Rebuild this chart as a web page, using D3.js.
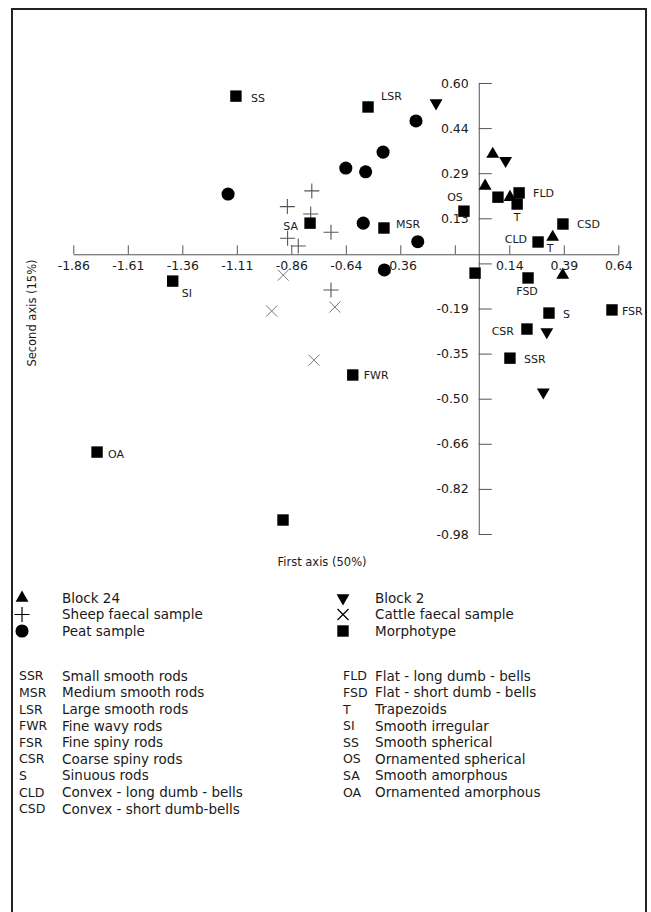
<!DOCTYPE html>
<html>
<head>
<meta charset="utf-8">
<script src="https://cdn.jsdelivr.net/npm/d3@7"></script>
<style>
  body { margin: 0; background: #fff; }
  svg text { font-family: "DejaVu Sans", sans-serif; fill: #1a1a1a; }
</style>
</head>
<body>
<div id="container"></div>
<script>
// axis ticks (the printed labels are rounded, the ticks are evenly spaced)
const xTicks = [-1.86, -1.61, -1.36, -1.11, -0.86, -0.61, -0.36, -0.11, 0.14, 0.39, 0.64];
const xTickLabels = ["-1.86", "-1.61", "-1.36", "-1.11", "-0.86", "-0.64", "-0.36", "", "0.14", "0.39", "0.64"];
const yTicks = [0.600, 0.442, 0.284, 0.126, -0.032, -0.190, -0.348, -0.506, -0.664, -0.822, -0.980];
const yTickLabels = ["0.60", "0.44", "0.29", "0.13", "", "-0.19", "-0.35", "-0.50", "-0.66", "-0.82", "-0.98"];

// sample scores [first axis, second axis]
const block24 = [[0.064, 0.351], [0.029, 0.239], [0.143, 0.200], [0.339, 0.060], [0.385, -0.073]];
const block2 = [[-0.196, 0.530], [0.123, 0.328], [0.312, -0.272], [0.296, -0.483]];
const sheep = [[-0.766, 0.222], [-0.878, 0.167], [-0.771, 0.141], [-0.678, 0.077], [-0.877, 0.056], [-0.828, 0.029], [-0.678, -0.125]];
const cattle = [[-0.897, -0.073], [-0.950, -0.199], [-0.660, -0.185], [-0.756, -0.371]];
const peat = [[-1.150, 0.211], [-0.288, 0.467], [-0.439, 0.358], [-0.610, 0.302], [-0.519, 0.289], [-0.530, 0.109], [-0.280, 0.044], [-0.433, -0.055]];

// morphotype scores
const morphoNames = ["SS", "LSR", "OS", "", "FLD", "T", "CSD", "CLD", "MSR", "SA", "SI", "", "FSD", "S", "FSR", "CSR", "SSR", "FWR", "OA", ""];
const morphoX = [-1.114, -0.508, -0.068, 0.088, 0.185, 0.176, 0.386, 0.272, -0.435, -0.774, -1.404, -0.017, 0.226, 0.322, 0.611, 0.221, 0.143, -0.578, -1.751, -0.898];
const morphoY = [0.554, 0.516, 0.151, 0.200, 0.215, 0.176, 0.106, 0.043, 0.092, 0.109, -0.094, -0.066, -0.083, -0.206, -0.195, -0.262, -0.364, -0.423, -0.693, -0.931];

// a label printed without its own marker
const extraLabels = [{ name: "T", x: 0.327, y: 0.021 }];

const groupNames = ["Block 24", "Block 2", "Sheep faecal sample", "Cattle faecal sample", "Peat sample", "Morphotype"];
const abbrLeft = ["SSR", "MSR", "LSR", "FWR", "FSR", "CSR", "S", "CLD", "CSD"];
const descLeft = ["Small smooth rods", "Medium smooth rods", "Large smooth rods", "Fine wavy rods", "Fine spiny rods", "Coarse spiny rods", "Sinuous rods", "Convex - long dumb - bells", "Convex - short dumb-bells"];
const abbrRight = ["FLD", "FSD", "T", "SI", "SS", "OS", "SA", "OA"];
const descRight = ["Flat - long dumb - bells", "Flat - short dumb - bells", "Trapezoids", "Smooth irregular", "Smooth spherical", "Ornamented spherical", "Smooth amorphous", "Ornamented  amorphous"];

// where each morphotype label sits relative to its square
const labelPos = {
  SS: [15, 2, "start"], LSR: [13, -11, "start"], OS: [-9, -14, "middle"], FLD: [14, 0, "start"],
  T: [0, 13, "middle"], CSD: [14, 0, "start"], CLD: [-11, -3, "end"], MSR: [12, -4, "start"],
  SA: [-12, 3, "end"], SI: [9, 12, "start"], FSD: [-1, 13, "middle"], S: [14, 1, "start"],
  FSR: [10, 1, "start"], CSR: [-13, 2, "end"], SSR: [14, 1, "start"], FWR: [11, 0, "start"],
  OA: [11, 2, "start"]
};

const width = 651, height = 912;

const svg = d3.select("#container")
  .append("svg")
  .attr("width", width)
  .attr("height", height);

svg.append("rect")
  .attr("x", 12)
  .attr("y", 9)
  .attr("width", 634)
  .attr("height", 920)
  .attr("fill", "none")
  .attr("stroke", "#222")
  .attr("stroke-width", 2);

const x = d3.scaleLinear()
  .domain([-1.86, 0.64])
  .range([73.3, 618.3]);

const y = d3.scaleLinear()
  .domain([-0.98, 0.60])
  .range([534, 83]);

const xAxis = svg.append("g")
  .attr("transform", `translate(0, ${y(0)})`)
  .call(d3.axisBottom(x)
    .tickValues(xTicks)
    .tickFormat((d, i) => xTickLabels[i])
    .tickSizeInner(-9)
    .tickSizeOuter(0)
    .tickPadding(7));

const yAxis = svg.append("g")
  .attr("transform", `translate(${x(0)}, 0)`)
  .call(d3.axisLeft(y)
    .tickValues(yTicks)
    .tickFormat((d, i) => yTickLabels[i])
    .tickSizeInner(-13)
    .tickSizeOuter(0)
    .tickPadding(10));

[xAxis, yAxis].forEach(g => {
  g.attr("font-family", null).attr("font-size", null);
  g.selectAll("path, line").attr("stroke", "#555");
  g.selectAll("text").style("font-size", "12.5px").attr("fill", "#1a1a1a");
});

svg.append("text")
  .attr("x", 322)
  .attr("y", 562)
  .attr("dy", "0.35em")
  .attr("text-anchor", "middle")
  .style("font-size", "11.5px")
  .text("First axis (50%)");

svg.append("text")
  .attr("transform", "translate(32, 313) rotate(-90)")
  .attr("dy", "0.35em")
  .attr("text-anchor", "middle")
  .style("font-size", "11.5px")
  .text("Second axis (15%)");

// marker shapes
const triUp = d3.symbol().type(d3.symbolTriangle).size(72)();
const square = d3.symbol().type(d3.symbolSquare).size(130)();
const circle = d3.symbol().type(d3.symbolCircle).size(135)();
const plus = "M-7.5,0H7.5M0,-7.5V7.5";
const cross = "M-5.5,-5.5L5.5,5.5M-5.5,5.5L5.5,-5.5";

function drawPoints(data, shape, opts) {
  svg.append("g")
    .selectAll("path")
    .data(data)
    .join("path")
    .attr("d", shape)
    .attr("transform", d => `translate(${x(d[0])},${y(d[1])})` + (opts.rotate ? " rotate(180)" : ""))
    .attr("fill", opts.fill)
    .attr("stroke", opts.stroke || "none")
    .attr("stroke-width", opts.strokeWidth || 0);
}

drawPoints(sheep, plus, { fill: "none", stroke: "#555", strokeWidth: 1.1 });
drawPoints(cattle, cross, { fill: "none", stroke: "#777", strokeWidth: 1 });
drawPoints(peat, circle, { fill: "#000" });

const morphs = morphoNames.map((n, i) => ({ name: n, x: morphoX[i], y: morphoY[i] }));

svg.append("g")
  .selectAll("path")
  .data(morphs)
  .join("path")
  .attr("d", square)
  .attr("transform", d => `translate(${x(d.x)},${y(d.y)})`)
  .attr("fill", "#000");

drawPoints(block24, triUp, { fill: "#000" });
drawPoints(block2, triUp, { fill: "#000", rotate: true });

svg.append("g")
  .selectAll("text")
  .data(morphs.filter(d => d.name !== "").concat(extraLabels))
  .join("text")
  .attr("x", d => x(d.x) + (extraLabels.includes(d) ? 0 : labelPos[d.name][0]))
  .attr("y", d => y(d.y) + (extraLabels.includes(d) ? 0 : labelPos[d.name][1]))
  .attr("dy", "0.35em")
  .attr("text-anchor", d => extraLabels.includes(d) ? "middle" : labelPos[d.name][2])
  .style("font-size", "11px")
  .text(d => d.name);

// legend: symbols
const legendShapes = [triUp, triUp, plus, cross, circle, square];
const legend = svg.append("g");

legend.selectAll("path")
  .data(groupNames)
  .join("path")
  .attr("d", (d, i) => legendShapes[i])
  .attr("transform", (d, i) => `translate(${i % 2 ? 343 : 22},${598 + Math.floor(i / 2) * 16.5})` + (i === 1 ? " rotate(180)" : ""))
  .attr("fill", (d, i) => i === 2 || i === 3 ? "none" : "#000")
  .attr("stroke", (d, i) => i === 2 || i === 3 ? "#000" : "none")
  .attr("stroke-width", 1.2);

legend.selectAll("text.group")
  .data(groupNames)
  .join("text")
  .attr("class", "group")
  .attr("x", (d, i) => i % 2 ? 375 : 62)
  .attr("y", (d, i) => 598 + Math.floor(i / 2) * 16.5)
  .attr("dy", "0.35em")
  .style("font-size", "13.5px")
  .text(d => d);

function abbrColumn(abbr, desc, ax, dx) {
  legend.append("g")
    .selectAll("text")
    .data(abbr)
    .join("text")
    .attr("x", ax)
    .attr("y", (d, i) => 676 + i * 16.6)
    .attr("dy", "0.35em")
    .style("font-size", "12.5px")
    .text(d => d);
  legend.append("g")
    .selectAll("text")
    .data(desc)
    .join("text")
    .attr("x", dx)
    .attr("y", (d, i) => 676 + i * 16.6)
    .attr("dy", "0.35em")
    .style("font-size", "13.5px")
    .text(d => d);
}

abbrColumn(abbrLeft, descLeft, 19, 62);
abbrColumn(abbrRight, descRight, 343, 375);
</script>
</body>
</html>
